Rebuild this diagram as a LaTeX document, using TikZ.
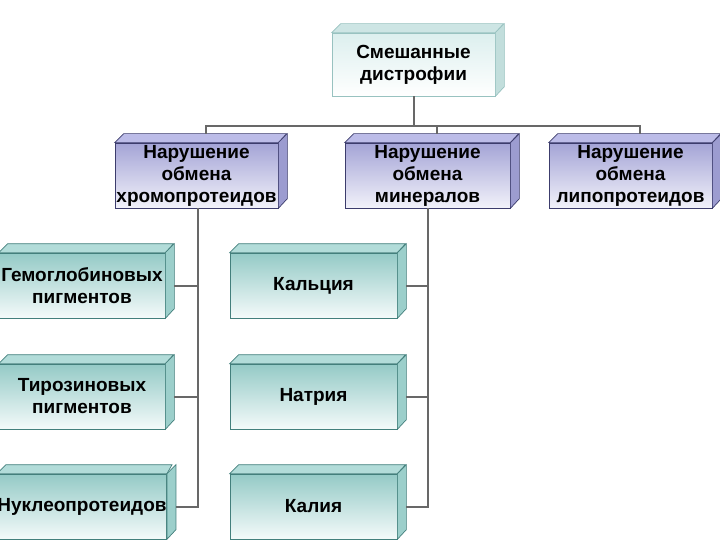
\documentclass[tikz,border=0pt]{standalone}
\usepackage{fontspec}
\setmainfont{Liberation Sans}
\usetikzlibrary{calc}
\definecolor{lineg}{HTML}{686868}
\definecolor{lavA}{HTML}{A4A4D6}
\definecolor{lavB}{HTML}{F2F2FA}
\definecolor{lavT}{HTML}{BCBCE8}
\definecolor{lavS}{HTML}{9C9CD0}
\definecolor{lavE}{HTML}{3C3C6C}
\definecolor{teaA}{HTML}{94CAC6}
\definecolor{teaB}{HTML}{F4FAFA}
\definecolor{teaT}{HTML}{B2DCD9}
\definecolor{teaS}{HTML}{9CCFCB}
\definecolor{teaE}{HTML}{437F7C}
\definecolor{palA}{HTML}{DCEFEE}
\definecolor{palB}{HTML}{FFFFFF}
\definecolor{palT}{HTML}{CDE5E4}
\definecolor{palS}{HTML}{C2DEDC}
\definecolor{palE}{HTML}{98C2C0}
\tikzset{
  x=1pt, y=-1pt,
  boxtext/.style={inner sep=0pt, align=center, text=black,
    font=\fontsize{19}{22}\selectfont\bfseries},
  lavfront/.style={boxtext, draw=lavE, line width=0.7pt, top color=lavA, bottom color=lavB},
  teafront/.style={boxtext, draw=teaE, line width=0.7pt, top color=teaA, bottom color=teaB},
  palfront/.style={boxtext, draw=palE, line width=0.7pt, top color=palA, bottom color=palB},
  conn/.style={draw=lineg, line width=2pt},
}
% #1 name, #2 cx, #3 cy, #4 width, #5 height, #6 prefix (lav/tea/pal), #7 text
\newcommand\cubebox[7]{%
  \node[#6front, minimum width=#4pt, minimum height=#5pt] (#1) at (#2,#3) {#7};
  \filldraw[fill=#6T, draw=#6E, line width=0.7pt]
    (#1.north west) -- ++(9,-9) -- ++(#4,0) -- (#1.north east) -- cycle;
  \filldraw[fill=#6S, draw=#6E, line width=0.7pt]
    (#1.north east) -- ++(9,-9) -- ++(0,#5) -- (#1.south east) -- cycle;
  \coordinate (#1-top) at ($(#1.north)+(9,-9)$);
  \coordinate (#1-r) at ($(#1.east)+(9,0)$);
}
\begin{document}
\begin{tikzpicture}
\useasboundingbox (0,0) rectangle (720,540);
\cubebox{smesh}{413.5}{64.5}{163}{63}{pal}{Смешанные\\дистрофии}
\cubebox{khromo}{196.5}{175.5}{163}{65}{lav}{Нарушение\\обмена\\хромопротеидов}
\cubebox{miner}{427.5}{175.5}{165}{65}{lav}{Нарушение\\обмена\\минералов}
\cubebox{lipo}{630.5}{175.5}{163}{65}{lav}{Нарушение\\обмена\\липопротеидов}
\cubebox{gemo}{82}{285.5}{166}{65}{tea}{Гемоглобиновых\\пигментов}
\cubebox{tiro}{82}{396.5}{166}{65}{tea}{Тирозиновых\\пигментов}
\cubebox{nukl}{82}{506.5}{166}{65}{tea}{Нуклеопротеидов}
\cubebox{kalc}{313.5}{285.5}{167}{65}{tea}{Кальция}
\cubebox{natr}{313.5}{396.5}{167}{65}{tea}{Натрия}
\cubebox{kali}{313.5}{506.5}{167}{65}{tea}{Калия}
\coordinate (bus) at (414,126);
\draw[conn] (smesh.south) -- (smesh.south |- bus);
\draw[conn] (khromo-top) -- (khromo-top |- bus) -- (lipo-top |- bus) -- (lipo-top);
\draw[conn] (miner-top) -- (miner-top |- bus);
\draw[conn] ([xshift=1.5pt]khromo.south) -- ([xshift=1.5pt]khromo.south |- nukl-r) -- (nukl-r);
\draw[conn] (gemo-r) -- ([xshift=1.5pt]gemo-r -| khromo.south);
\draw[conn] (tiro-r) -- ([xshift=1.5pt]tiro-r -| khromo.south);
\draw[conn] (miner.south) -- (miner.south |- kali-r) -- (kali-r);
\draw[conn] (kalc-r) -- (kalc-r -| miner.south);
\draw[conn] (natr-r) -- (natr-r -| miner.south);
\end{tikzpicture}
\end{document}
